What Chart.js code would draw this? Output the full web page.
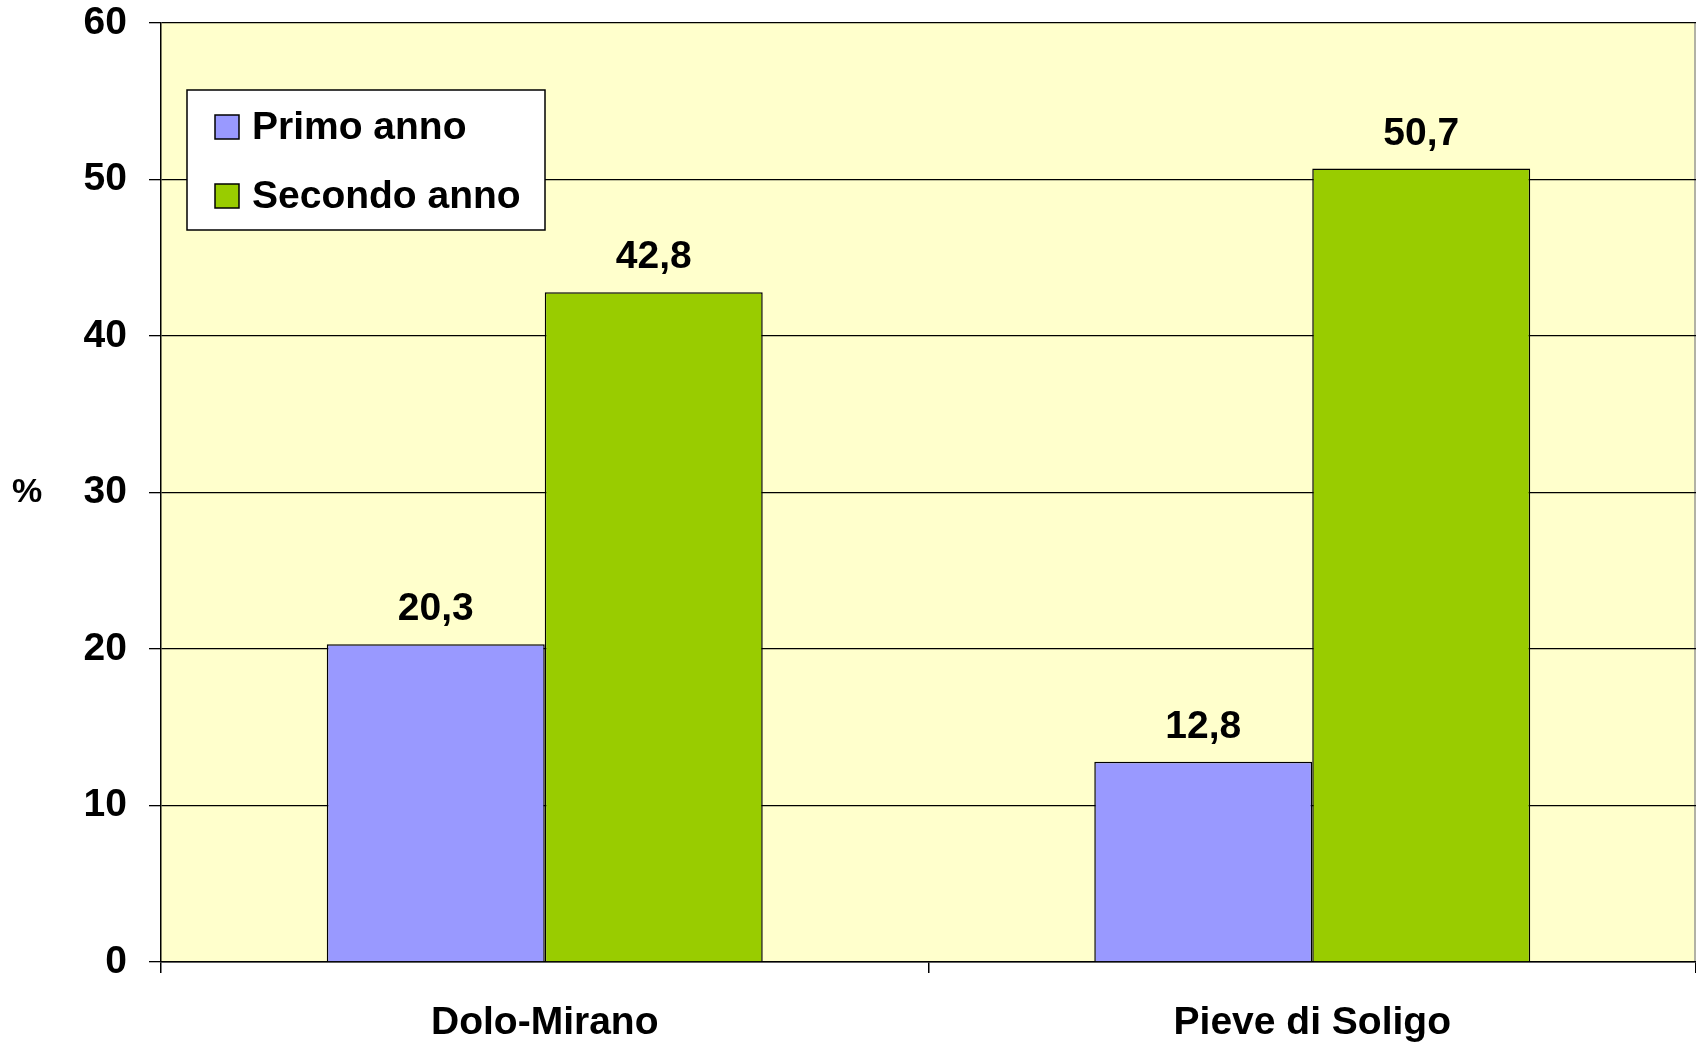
<!DOCTYPE html>
<html>
<head>
<meta charset="utf-8">
<script src="https://cdn.jsdelivr.net/npm/chart.js@4/dist/chart.umd.min.js"></script>
<style>
  html, body { margin: 0; padding: 0; background: #fff; }
  canvas { display: block; }
</style>
</head>
<body>
<canvas id="chart" width="1696" height="1043"></canvas>
<script>
// Dati
const categories = ['Dolo-Mirano', 'Pieve di Soligo'];
const seriesNames = ['Primo anno', 'Secondo anno'];
const primoAnno = [20.3, 12.8];
const secondoAnno = [42.8, 50.7];
const yMin = 0, yMax = 60, yStep = 10;

const colors = ['#9999FF', '#99CC00'];
const FONT = '"Liberation Sans", Arial, sans-serif';

// Sfondo giallo dell'area del grafico
const plotBackground = {
    id: 'plotBackground',
    beforeDraw(chart) {
        const { ctx, chartArea: a } = chart;
        ctx.save();
        ctx.fillStyle = '#FFFFCC';
        ctx.fillRect(a.left, a.top, a.right - a.left, a.bottom - a.top);
        ctx.strokeStyle = '#999';
        ctx.lineWidth = 1.5;
        ctx.beginPath();
        ctx.moveTo(a.right - 1, a.top);
        ctx.lineTo(a.right - 1, a.bottom);
        ctx.stroke();
        ctx.restore();
    }
};

// Valori sopra le barre, con la virgola decimale
const valueLabels = {
    id: 'valueLabels',
    afterDatasetsDraw(chart) {
        const ctx = chart.ctx;
        ctx.save();
        ctx.font = 'bold 39px ' + FONT;
        ctx.fillStyle = '#000';
        ctx.textAlign = 'center';
        ctx.textBaseline = 'alphabetic';
        chart.data.datasets.forEach((ds, i) => {
            chart.getDatasetMeta(i).data.forEach((bar, j) => {
                const txt = ds.data[j].toFixed(1).replace('.', ',');
                ctx.fillText(txt, bar.x, bar.y - 24);
            });
        });
        ctx.restore();
    }
};

// Legenda nel riquadro bianco e simbolo "%" dell'asse
const boxLegend = {
    id: 'boxLegend',
    afterDraw(chart) {
        const { ctx, chartArea: a } = chart;
        const bx = a.left + 26, by = a.top + 67, bw = 358, bh = 140;
        ctx.save();
        ctx.fillStyle = '#fff';
        ctx.fillRect(bx, by, bw, bh);
        ctx.strokeStyle = '#000';
        ctx.lineWidth = 1.5;
        ctx.strokeRect(bx, by, bw, bh);

        ctx.font = 'bold 39px ' + FONT;
        ctx.textAlign = 'left';
        ctx.textBaseline = 'middle';
        const rows = [by + 37, by + 106];
        chart.data.datasets.forEach((ds, i) => {
            const cy = rows[i];
            ctx.fillStyle = ds.backgroundColor;
            ctx.fillRect(bx + 28, cy - 12, 24, 24);
            ctx.strokeRect(bx + 28, cy - 12, 24, 24);
            ctx.fillStyle = '#000';
            ctx.fillText(ds.label, bx + 65, cy + 1);
        });

        ctx.font = 'bold 34px ' + FONT;
        ctx.textAlign = 'center';
        ctx.fillText('%', 27, (a.top + a.bottom) / 2);
        ctx.restore();
    }
};

new Chart(document.getElementById('chart'), {
    type: 'bar',
    data: {
        labels: categories,
        datasets: [
            {
                label: seriesNames[0],
                data: primoAnno,
                backgroundColor: colors[0],
                borderColor: '#000',
                borderWidth: 1.5
            },
            {
                label: seriesNames[1],
                data: secondoAnno,
                backgroundColor: colors[1],
                borderColor: '#000',
                borderWidth: 1.5
            }
        ]
    },
    options: {
        responsive: false,
        animation: false,
        devicePixelRatio: 1,
        layout: { padding: { top: 23, right: 0, bottom: 0, left: 0 } },
        datasets: { bar: { barPercentage: 1, categoryPercentage: 0.568 } },
        plugins: {
            legend: { display: false },
            tooltip: { enabled: false }
        },
        scales: {
            x: {
                offset: true,
                grid: {
                    drawOnChartArea: false,
                    color: '#000',
                    lineWidth: 1.5,
                    tickLength: 11
                },
                border: { color: '#000', width: 1.5 },
                ticks: {
                    color: '#000',
                    padding: 27,
                    font: { family: FONT, size: 39, weight: 'bold' }
                },
                afterFit(scale) {
                    scale.height = 81;
                    scale.paddingLeft = 0;
                    scale.paddingRight = 0;
                }
            },
            y: {
                min: yMin,
                max: yMax,
                grid: {
                    color: '#000',
                    lineWidth: 1.3,
                    tickLength: 12
                },
                border: { color: '#000', width: 1.5 },
                ticks: {
                    stepSize: yStep,
                    color: '#000',
                    padding: 22,
                    font: { family: FONT, size: 39, weight: 'bold' }
                },
                afterFit(scale) {
                    scale.width = 161;
                    scale.paddingTop = 0;
                    scale.paddingBottom = 0;
                }
            }
        }
    },
    plugins: [plotBackground, valueLabels, boxLegend]
});
</script>
</body>
</html>
